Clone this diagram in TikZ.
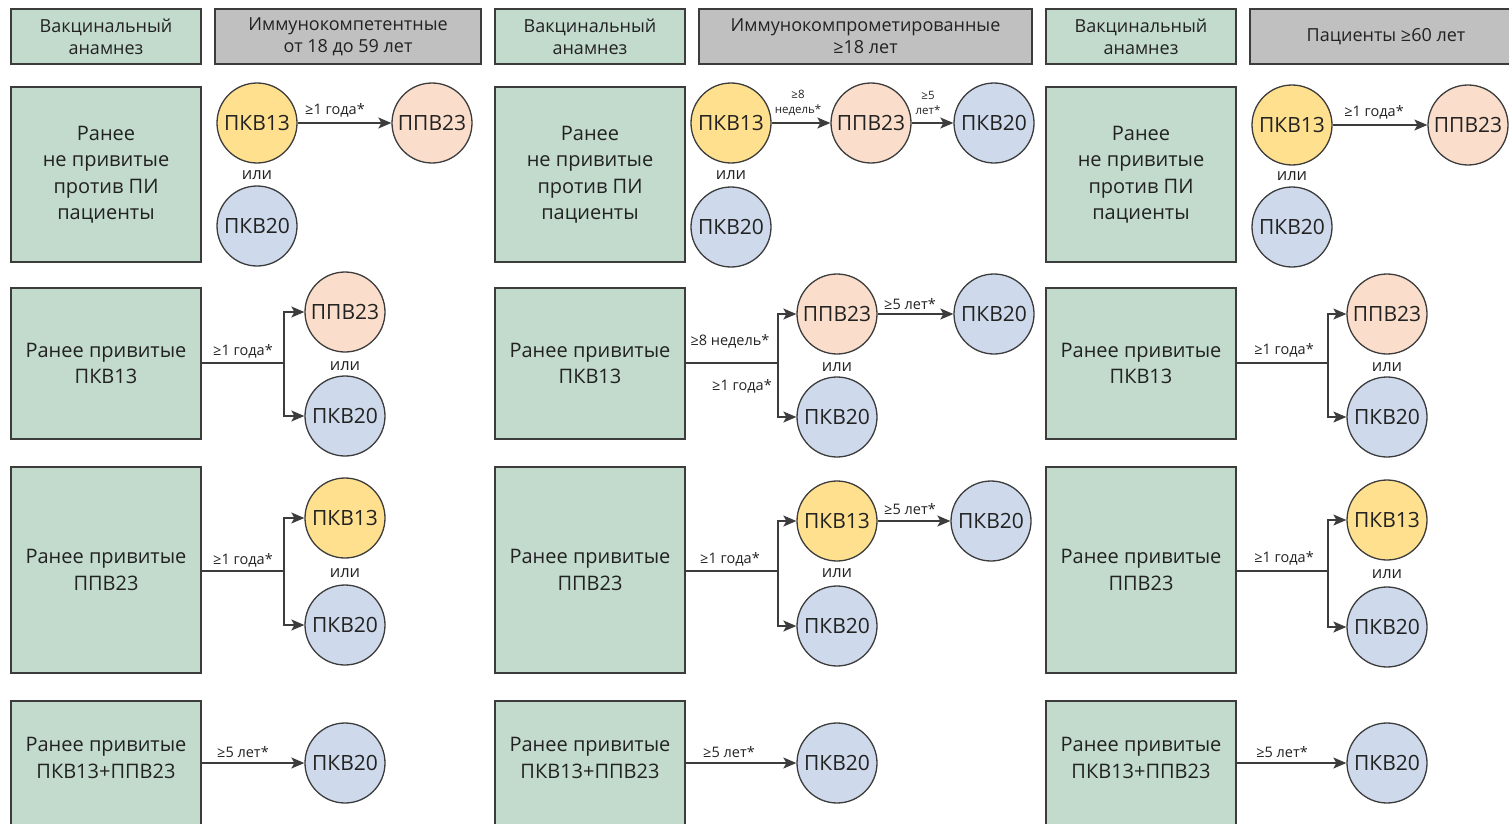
\documentclass[tikz,border=0pt]{standalone}
\usepackage{fontspec}
\setmainfont{Open Sans}
\usetikzlibrary{arrows.meta}
\usetikzlibrary{positioning}

\definecolor{histgreen}{HTML}{C3DBCD}
\definecolor{grpgray}{HTML}{C0C0C0}
\definecolor{vyellow}{HTML}{FFE08E}
\definecolor{vpeach}{HTML}{FADDCA}
\definecolor{vblue}{HTML}{CEDAEB}
\definecolor{boxline}{HTML}{3C3C3C}
\definecolor{txt}{HTML}{222222}

\begin{document}
\begin{tikzpicture}[x=1pt,y=-1pt,
    hist/.style={draw=boxline, line width=1.5pt, fill=histgreen, text=txt, align=center, inner sep=0pt, font=\fontsize{20}{26.5}\selectfont},
    head/.style={hist, font=\fontsize{18}{22}\selectfont, minimum height=55pt},
    grp/.style={head, fill=grpgray},
    vac/.style={circle, draw=boxline, line width=1.3pt, minimum size=80pt, inner sep=0pt, text=txt, font=\fontsize{21}{21}\selectfont},
    pkva/.style={vac, fill=vyellow},
    ppv/.style={vac, fill=vpeach},
    pkvb/.style={vac, fill=vblue},
    go/.style={draw=boxline, line width=1.4pt, -{Stealth[length=13pt,width=11pt,inset=3pt]}},
    link/.style={draw=boxline, line width=1.4pt},
    term/.style={text=txt, inner sep=0pt, align=center, font=\fontsize{14.5}{16}\selectfont},
    small/.style={term, font=\fontsize{11.5}{15}\selectfont},
    ili/.style={text=txt, inner sep=0pt, font=\fontsize{16.5}{16.5}\selectfont}]

    \useasboundingbox (0,0) rectangle (1509,824);

    % headers
    \node[head, minimum width=190pt] (h1) at (106,36.5) {Вакцинальный\\анамнез};
    \node[grp, minimum width=266pt] (g1) at (348,36.5) {Иммунокомпетентные\\от 18 до 59 лет};
    \node[head, minimum width=190pt] (h2) at (590,36.5) {Вакцинальный\\анамнез};
    \node[grp, minimum width=333pt] (g2) at (865.5,36.5) {Иммунокомпрометированные\\≥18 лет};
    \node[head, minimum width=190pt] (h3) at (1141,36.5) {Вакцинальный\\анамнез};
    \node[grp, minimum width=272pt] (g3) at (1386,36.5) {Пациенты ≥60 лет};

    % history boxes
    \node[hist, minimum width=190pt, minimum height=175pt] (a11) at (106,174.5) {Ранее\\не привитые\\против ПИ\\пациенты};
    \node[hist, minimum width=190pt, minimum height=151pt] (a12) at (106,363.5) {Ранее привитые\\ПКВ13};
    \node[hist, minimum width=190pt, minimum height=206pt] (a13) at (106,570) {Ранее привитые\\ППВ23};
    \node[hist, minimum width=190pt, minimum height=140pt] (a14) at (106,771) {};
    \node[term, font=\fontsize{20}{26.5}\selectfont] (s14) at (106,758) {Ранее привитые\\ПКВ13+ППВ23};

    \node[hist, minimum width=190pt, minimum height=175pt] (a21) at (590,174.5) {Ранее\\не привитые\\против ПИ\\пациенты};
    \node[hist, minimum width=190pt, minimum height=151pt] (a22) at (590,363.5) {Ранее привитые\\ПКВ13};
    \node[hist, minimum width=190pt, minimum height=206pt] (a23) at (590,570) {Ранее привитые\\ППВ23};
    \node[hist, minimum width=190pt, minimum height=140pt] (a24) at (590,771) {};
    \node[term, font=\fontsize{20}{26.5}\selectfont] (s24) at (590,758) {Ранее привитые\\ПКВ13+ППВ23};

    \node[hist, minimum width=190pt, minimum height=175pt] (a31) at (1141,174.5) {Ранее\\не привитые\\против ПИ\\пациенты};
    \node[hist, minimum width=190pt, minimum height=151pt] (a32) at (1141,363.5) {Ранее привитые\\ПКВ13};
    \node[hist, minimum width=190pt, minimum height=206pt] (a33) at (1141,570) {Ранее привитые\\ППВ23};
    \node[hist, minimum width=190pt, minimum height=140pt] (a34) at (1141,771) {};
    \node[term, font=\fontsize{20}{26.5}\selectfont] (s34) at (1141,758) {Ранее привитые\\ПКВ13+ППВ23};

    % column 1
    \node[pkva] (c11a) at (257,123) {ПКВ13};
    \node[ppv] (c11b) at (432,123) {ППВ23};
    \node[pkvb] (c11c) at (257,226) {ПКВ20};
    \node[ili] (o11) at (257,175) {или};
    \draw[go] (c11a) -- (c11b);
    \node[term] (t11) at (335,110) {≥1 года*};

    \node[ppv] (c12a) at (345,312) {ППВ23};
    \node[pkvb] (c12b) at (345,416) {ПКВ20};
    \node[ili] (o12) at (345,366) {или};
    \coordinate (j12) at (284,363);
    \draw[link] (a12.east |- j12) -- (j12);
    \draw[go] (j12) |- (c12a);
    \draw[go] (j12) |- (c12b);
    \node[term] (t12) at (243,351) {≥1 года*};

    \node[pkva] (c13a) at (345,518) {ПКВ13};
    \node[pkvb] (c13b) at (345,625) {ПКВ20};
    \node[ili] (o13) at (345,573) {или};
    \coordinate (j13) at (284,571);
    \draw[link] (a13.east |- j13) -- (j13);
    \draw[go] (j13) |- (c13a);
    \draw[go] (j13) |- (c13b);
    \node[term] (t13) at (243,560) {≥1 года*};

    \node[pkvb] (c14) at (345,763) {ПКВ20};
    \draw[go] (a14.east |- c14) -- (c14);
    \node[term] (t14) at (243,752) {≥5 лет*};

    % column 2
    \node[pkva] (c21a) at (731,123) {ПКВ13};
    \node[ppv] (c21b) at (871,123) {ППВ23};
    \node[pkvb] (c21c) at (994,123) {ПКВ20};
    \node[pkvb] (c21d) at (731,227) {ПКВ20};
    \node[ili] (o21) at (731,175) {или};
    \draw[go] (c21a) -- (c21b);
    \draw[go] (c21b) -- (c21c);
    \node[small] (t21a) at (798,103) {≥8\\недель*};
    \node[small] (t21b) at (928,103) {≥5\\лет*};

    \node[ppv] (c22a) at (837,314) {ППВ23};
    \node[pkvb] (c22b) at (837,417) {ПКВ20};
    \node[pkvb] (c22c) at (994,314) {ПКВ20};
    \node[ili] (o22) at (837,367) {или};
    \coordinate (j22) at (778,363);
    \draw[link] (a22.east |- j22) -- (j22);
    \draw[go] (j22) |- (c22a);
    \draw[go] (j22) |- (c22b);
    \draw[go] (c22a) -- (c22c);
    \node[term] (t22a) at (730,341) {≥8 недель*};
    \node[term] (t22b) at (742,386) {≥1 года*};
    \node[term] (t22c) at (910,304) {≥5 лет*};

    \node[pkva] (c23a) at (837,521) {ПКВ13};
    \node[pkvb] (c23b) at (837,626) {ПКВ20};
    \node[pkvb] (c23c) at (991,521) {ПКВ20};
    \node[ili] (o23) at (837,573) {или};
    \coordinate (j23) at (778,571);
    \draw[link] (a23.east |- j23) -- (j23);
    \draw[go] (j23) |- (c23a);
    \draw[go] (j23) |- (c23b);
    \draw[go] (c23a) -- (c23c);
    \node[term] (t23a) at (730,559) {≥1 года*};
    \node[term] (t23b) at (910,509) {≥5 лет*};

    \node[pkvb] (c24) at (837,763) {ПКВ20};
    \draw[go] (a24.east |- c24) -- (c24);
    \node[term] (t24) at (729,752) {≥5 лет*};

    % column 3
    \node[pkva] (c31a) at (1292,125) {ПКВ13};
    \node[ppv] (c31b) at (1468,125) {ППВ23};
    \node[pkvb] (c31c) at (1292,227) {ПКВ20};
    \node[ili] (o31) at (1292,176) {или};
    \draw[go] (c31a) -- (c31b);
    \node[term] (t31) at (1374,112) {≥1 года*};

    \node[ppv] (c32a) at (1387,314) {ППВ23};
    \node[pkvb] (c32b) at (1387,417) {ПКВ20};
    \node[ili] (o32) at (1387,367) {или};
    \coordinate (j32) at (1328,363);
    \draw[link] (a32.east |- j32) -- (j32);
    \draw[go] (j32) |- (c32a);
    \draw[go] (j32) |- (c32b);
    \node[term] (t32) at (1284,350) {≥1 года*};

    \node[pkva] (c33a) at (1387,520) {ПКВ13};
    \node[pkvb] (c33b) at (1387,627) {ПКВ20};
    \node[ili] (o33) at (1387,574) {или};
    \coordinate (j33) at (1328,571);
    \draw[link] (a33.east |- j33) -- (j33);
    \draw[go] (j33) |- (c33a);
    \draw[go] (j33) |- (c33b);
    \node[term] (t33) at (1284,558) {≥1 года*};

    \node[pkvb] (c34) at (1387,763) {ПКВ20};
    \draw[go] (a34.east |- c34) -- (c34);
    \node[term] (t34) at (1282,752) {≥5 лет*};
\end{tikzpicture}
\end{document}
